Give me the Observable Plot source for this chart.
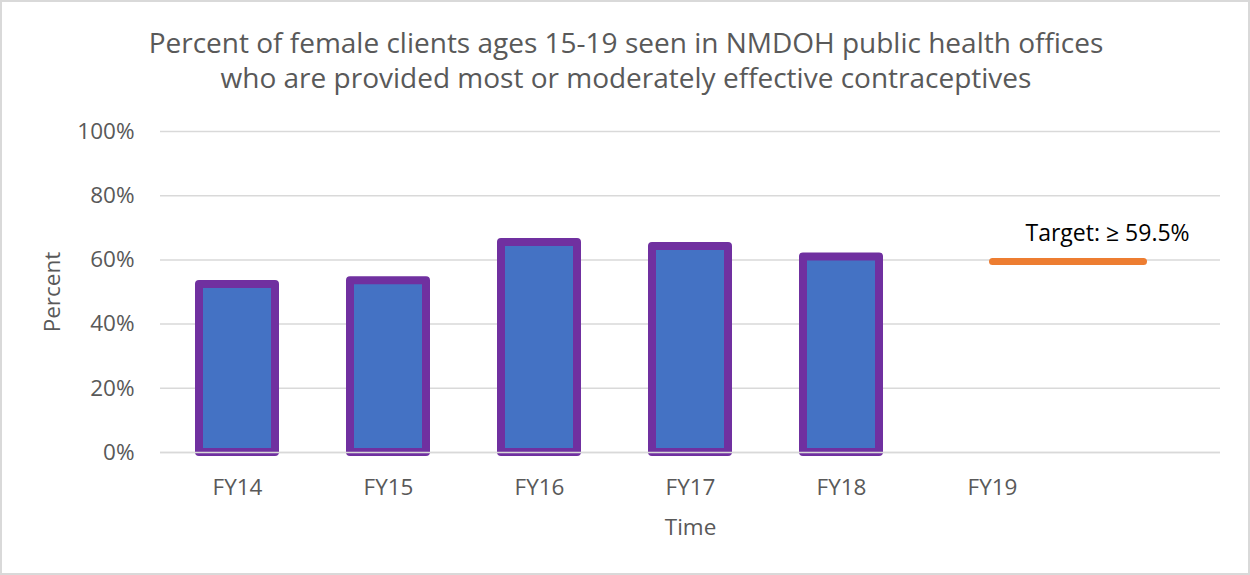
<!DOCTYPE html>
<html>
<head>
<meta charset="utf-8">
<script src="https://cdn.jsdelivr.net/npm/d3@7"></script>
<script src="https://cdn.jsdelivr.net/npm/@observablehq/plot@0.6"></script>
<style>
  html, body { margin: 0; padding: 0; background: #fff; }
  #chart {
    position: relative; width: 1250px; height: 575px; box-sizing: border-box;
    box-shadow: inset 0 0 0 2px #d9d9d9; overflow: hidden;
    font-family: "Open Sans", sans-serif;
  }
  #title {
    height: 110px; box-sizing: border-box; padding-top: 25px; padding-left: 2px;
    text-align: center; font-size: 28px; line-height: 35px; color: #595959;
  }
  svg { display: block; }
</style>
</head>
<body>
<div id="chart">
  <div id="title">Percent of female clients ages 15-19 seen in NMDOH public health offices<br>who are provided most or moderately effective contraceptives</div>
</div>
<script>
const categories = ["FY14", "FY15", "FY16", "FY17", "FY18", "FY19", ""];
const barYears = ["FY14", "FY15", "FY16", "FY17", "FY18"];
const barValues = [52.3, 53.5, 65.4, 64.2, 60.9];
const targetYears = ["FY19", ""];
const targetValue = 59.5;
const targetLabel = "Target: \u2265 59.5%";
const yTicks = [0, 20, 40, 60, 80, 100];

const bars = barYears.map((c, i) => ({cat: c, value: barValues[i]}));
const target = targetYears.map(c => ({cat: c, value: targetValue}));

const plot = Plot.plot({
  width: 1250,
  height: 465,
  marginTop: 21,
  marginBottom: 123,
  marginLeft: 160,
  marginRight: 30,
  style: {fontFamily: "Open Sans, sans-serif", fontSize: "22.5px", color: "#595959", background: "transparent"},
  x: {domain: categories, paddingInner: 0.5, paddingOuter: 0.25, label: null},
  y: {domain: [0, 100], label: null},
  marks: [
    Plot.gridY(yTicks, {stroke: "#d9d9d9", strokeOpacity: 1, strokeWidth: 1.5}),
    Plot.axisY(yTicks, {tickSize: 0, tickPadding: 26, tickFormat: d => d + "%", fill: "#595959", fontSize: 22.5,
      label: "Percent", labelAnchor: "center", labelOffset: 116, labelArrow: "none"}),
    Plot.axisX({tickSize: 0, tickPadding: 27, fill: "#595959", fontSize: 22.5,
      label: "Time", labelAnchor: "center", labelOffset: 82, labelArrow: "none"}),
    Plot.barY(bars, {x: "cat", y: "value", fill: "#4472C4", stroke: "#7030A0", strokeWidth: 8, strokeLinejoin: "round"}),
    Plot.ruleY([0], {stroke: "#d9d9d9", strokeWidth: 1.5}),
    Plot.lineY(target, {x: "cat", y: "value", stroke: "#ED7D31", strokeWidth: 7, strokeLinecap: "round"}),
    Plot.text([targetLabel], {x: () => "FY19", y: () => targetValue, text: d => d, textAnchor: "start", dx: 33, dy: -28, fill: "#000", fontSize: 23})
  ]
});
document.getElementById("chart").appendChild(plot);
</script>
</body>
</html>
